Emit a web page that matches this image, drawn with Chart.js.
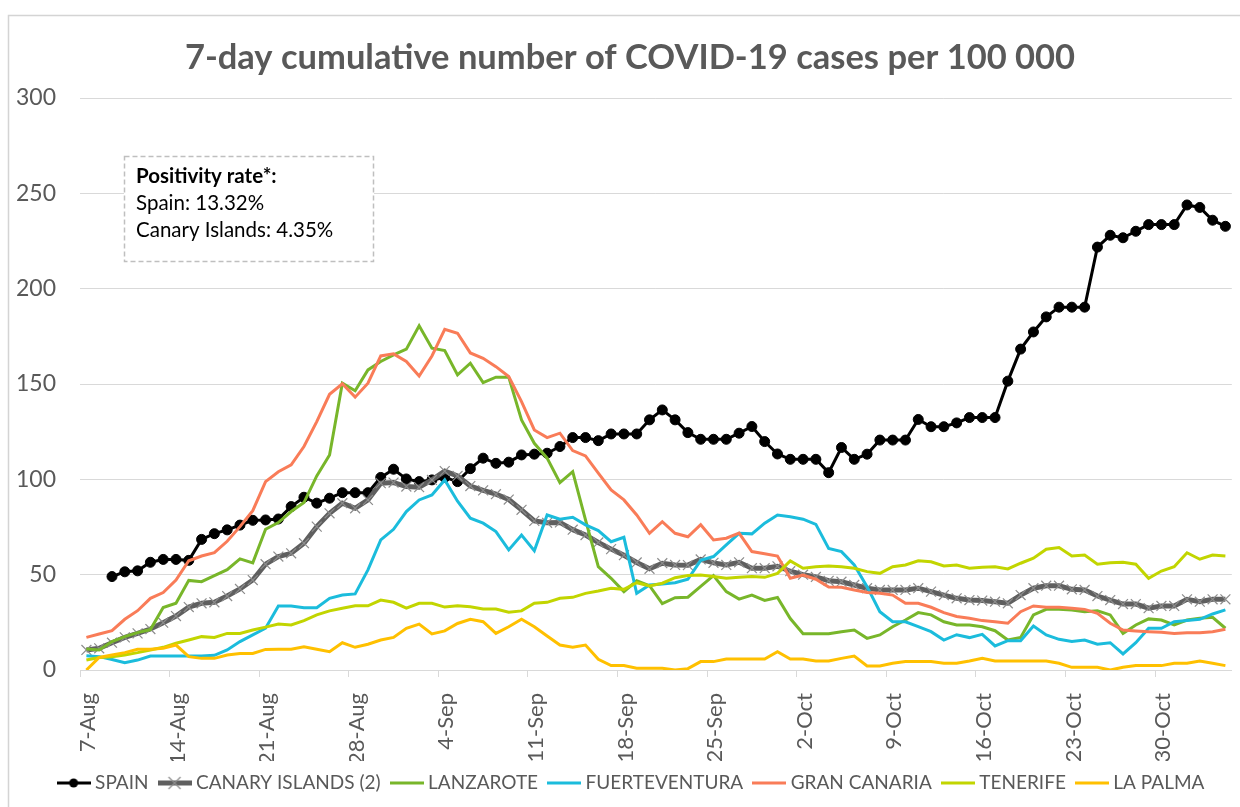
<!DOCTYPE html>
<html><head><meta charset="utf-8">
<script src="https://cdn.jsdelivr.net/npm/chart.js@4.4.0/dist/chart.umd.min.js"></script>
<style>html,body{margin:0;padding:0;background:#fff;overflow:hidden}</style>
</head><body>
<canvas id="c" width="1240" height="807"></canvas>
<script>
const FONT = "Lato, 'Liberation Sans', sans-serif";
const titleText = '7-day cumulative number of COVID-19 cases per 100 000';
const tickLabels = ['7-Aug','14-Aug','21-Aug','28-Aug','4-Sep','11-Sep','18-Sep','25-Sep','2-Oct','9-Oct','16-Oct','23-Oct','30-Oct'];
const seriesNames = ['SPAIN','CANARY ISLANDS (2)','LANZAROTE','FUERTEVENTURA','GRAN CANARIA','TENERIFE','LA PALMA'];

const spain = [null,null,49,51.5,52,56.5,58,58,57.5,68.5,71.5,73.5,76,78.5,78.7,79.2,85.7,90.6,87.5,90.1,93,93,93,101,105.3,100.2,98.8,99.7,101,98.8,105.6,111.1,108.4,109,112.8,113.2,113.7,117.2,121.9,121.9,120.3,123.8,123.8,123.8,131.2,136.4,131.2,124.5,121,121,121,124.2,127.7,119.8,113.3,110.5,110.5,110.5,103.5,116.7,110.5,113.2,120.6,120.6,120.6,131.4,127.6,127.6,129.6,132.4,132.4,132.4,151.5,168.3,177.3,185.2,190.3,190.3,190.3,221.8,228,226.7,230.1,233.6,233.6,233.6,243.9,242.6,235.9,232.7];
const canary = [10.5,11.4,14.3,17.1,19.2,21.5,24.8,28.3,33,35,35.5,38.8,42.5,47.2,55.5,59.5,61.2,66.5,75.2,82.2,87.5,84.8,89.2,98,98.3,96.2,95.9,99.7,104.3,101.8,96.5,94.2,92.2,89.4,84,78.2,77.2,77.4,73.6,70.8,66.9,63.4,60.2,56.4,53.1,56,55.1,55,58,56.2,55.1,56.5,53.4,53.4,54.4,51.8,50,48.8,46.8,46.3,44.6,42.9,42,42,42,42.9,41.1,39.3,37.6,36.7,36.4,35.8,35,39.3,42.9,44.2,44.2,42.3,42,38.8,36.7,34.6,34.6,32.4,33.6,33.6,37.1,35.8,37.1,37.1];
const lanzarote = [11,10.5,14.9,17.5,19.6,21.2,32.8,35,47,46.3,49.5,52.6,58.3,56.2,73.8,77.3,83.1,87.8,101.8,112.8,150.4,146.5,157.4,161.8,165.3,168.3,180.5,168.8,167.5,154.8,160.9,150.7,153.6,153.6,131.2,118.9,111.1,98.3,104,78.7,54.2,48.1,41.1,46.8,44.2,34.8,37.9,38.2,43.9,49.5,41.1,37.2,39.3,36.5,38,27,19,19,19,20.1,21,16.6,18.4,22.7,26.2,30.1,28.9,25.3,23.6,23.6,22.7,20.6,15.7,17.1,28.9,31.8,31.8,31.5,30.6,31.1,28.9,19.2,23.6,26.8,26.2,23.6,26.2,27.1,27.6,21.9];
const fuerteventura = [7.5,7,5.5,3.8,5.2,7.3,7.3,7.3,7.3,7.3,7.7,10.5,14.9,18.4,21.9,33.6,33.6,32.7,32.7,37.6,39.3,39.9,52.5,68.2,73.8,83.1,89.2,91.8,99.7,88.5,79.6,77,72.6,63,70.8,62.6,81.3,79.1,80.1,76.1,73.1,67.3,69.6,40.2,44.6,45.1,45.8,47.6,57.5,59.5,65.6,71.7,71.4,77,81.3,80.4,79.1,76.4,63.8,62.1,55.1,43.7,30.6,25.3,25.3,22.7,20.1,15.7,18.5,17,18.7,12.6,15.4,15.4,23.1,18.4,16.1,14.9,15.7,13.5,14.3,8.4,14.3,21.9,21.9,25.3,25.9,26.6,29.4,31.5];
const granCanaria = [17.1,18.9,20.6,26.6,31.1,37.6,40.6,47.2,57.3,59.8,61.5,67.5,75.2,83.6,98.8,104,107.6,117.2,130.3,144.6,150.1,143.1,150.4,164.7,165.8,161.8,154.2,164.7,178.7,176.6,166.3,163.5,159.1,153.9,140.8,125.9,121.9,124.2,115.1,112.3,103.2,94.4,89.2,81.3,71.7,77.8,71.7,69.9,76.2,68.2,69.1,71.8,62.1,61,59.8,48.1,49.8,47.6,43.5,43.4,42,40.6,40.2,39.3,35,35,32.9,30.1,28.1,27.1,25.9,25.3,24.5,30.6,33.6,32.9,32.9,32.4,31.8,29.7,24.5,21,20.5,20.1,19.8,19.2,19.6,19.6,20.1,21.4];
const tenerife = [5.2,6.6,7,7.9,9.1,10.5,11.9,14,15.7,17.5,17.1,19.2,19.2,21,22.5,24.1,23.6,25.9,28.9,31,32.4,33.7,33.7,36.7,35.5,32.4,35,35,33,33.7,33.2,32,32,30.3,31,35,35.5,37.6,38.1,40.2,41.4,42.9,42.3,45.8,44.1,45.5,48.4,49.6,49.8,49,48.1,48.6,49,48.6,50.7,57.2,53.4,54.2,54.6,54.2,53.4,51.6,50.7,54.2,55.1,57.3,56.8,54.6,55.1,53.4,53.9,54.2,53,56,58.6,63.3,64.2,59.8,60.3,55.5,56.3,56.5,55.5,48.1,51.9,54.2,61.5,58.1,60.3,59.8];
const laPalma = [0,6.6,7.9,9.1,10.9,10.9,11.4,13.1,7,6.1,6.1,7.9,8.7,8.7,10.8,10.9,10.9,12.2,10.9,9.6,14.3,11.9,13.5,15.7,17.1,21.9,24.1,18.9,20.5,24.4,26.6,25.3,19.2,22.7,26.6,22.7,17.8,13.1,11.9,13.1,5.6,2.3,2.3,0.9,0.9,0.9,0,0.7,4.4,4.4,5.8,5.8,5.8,5.8,9.6,5.8,5.8,4.7,4.7,6.1,7.3,2.1,2.1,3.5,4.4,4.4,4.4,3.5,3.5,4.7,6.1,4.7,4.7,4.7,4.7,4.7,3.5,1.4,1.4,1.4,0,1.4,2.3,2.3,2.3,3.5,3.5,4.7,3.5,2.3];

const seriesValues = [spain, canary, lanzarote, fuerteventura, granCanaria, tenerife, laPalma];
const colors = ['#000000','#5f5f5f','#78b62a','#1bbcdc','#f97c58','#c2d500','#ffc000'];

function legendIcon(i){
  const cv = document.createElement('canvas'); cv.width = 34; cv.height = 16;
  const g = cv.getContext('2d');
  g.strokeStyle = colors[i]; g.lineWidth = i===1 ? 5 : 3;
  g.beginPath(); g.moveTo(0,8); g.lineTo(34,8); g.stroke();
  if(i===0){ g.fillStyle='#000'; g.beginPath(); g.arc(17,8,4.5,0,Math.PI*2); g.fill(); }
  if(i===1){ g.strokeStyle='#8c8c8c'; g.lineWidth=1.2; g.beginPath(); g.moveTo(11,2); g.lineTo(23,14); g.moveTo(23,2); g.lineTo(11,14); g.stroke(); }
  return cv;
}

const datasets = seriesValues.map((vals, i) => ({
  label: seriesNames[i],
  data: vals.map((v, k) => ({x: k + 0.5, y: v})),
  borderColor: colors[i],
  backgroundColor: colors[i],
  borderWidth: i===1 ? 5 : 3,
  pointRadius: i===0 ? 5 : (i===1 ? 7 : 0),
  pointStyle: i===1 ? 'crossRot' : 'circle',
  pointBorderColor: i===1 ? '#8c8c8c' : colors[i],
  pointBackgroundColor: colors[i],
  pointBorderWidth: i===1 ? 1.2 : 1,
  tension: 0,
  spanGaps: false,
  order: 6 - i,
  legendIcon: legendIcon(i)
}));

const framePlugin = {
  id: 'frame',
  afterLayout(chart){
    const lg = chart.legend;
    if (lg) { lg.left += 32; lg.top -= 1.5; lg.bottom -= 1.5; }
  },
  beforeDraw(chart){
    const c = chart.ctx; c.save();
    c.fillStyle='#fff'; c.fillRect(0,0,chart.width,chart.height);
    c.strokeStyle='#d4d4d4'; c.lineWidth=1.5;
    c.beginPath(); c.moveTo(8.5,807); c.lineTo(8.5,15.5); c.lineTo(1240,15.5); c.stroke();
    c.fillStyle='#595959'; c.textAlign='center'; c.textBaseline='middle';
    c.font = "bold 34.5px " + FONT;
    c.fillText(titleText, 630, 58);
    c.restore();
  },
  afterDraw(chart){
    const c = chart.ctx; c.save();
    c.fillStyle='#fff'; c.fillRect(124,156,250,106);
    c.setLineDash([5,3]); c.strokeStyle='#bfbfbf'; c.lineWidth=1.5;
    c.strokeRect(124.5,156.5,249,105);
    c.setLineDash([]);
    c.fillStyle='#000'; c.textBaseline='alphabetic'; c.textAlign='left';
    c.font = "bold 20.5px " + FONT; c.fillText('Positivity rate*:', 136, 183);
    c.font = "20.5px " + FONT;
    c.fillText('Spain: 13.32%', 136, 210);
    c.fillText('Canary Islands: 4.35%', 136, 237);
    c.restore();
  }
};

new Chart(document.getElementById('c'), {
  type: 'line',
  data: { datasets },
  plugins: [framePlugin],
  options: {
    responsive: false, animation: false, devicePixelRatio: 1,
    layout: { padding: { left: 0, right: 6, top: 98, bottom: 3 } },
    plugins: {
      tooltip: { enabled: false },
      title: { display: false },
      legend: { position: 'bottom',
        labels: { usePointStyle: true, pointStyleWidth: 24, padding: 14, color: '#595959',
          font: { family: FONT, size: 19 },
          sort: (a, b) => a.datasetIndex - b.datasetIndex,
          generateLabels: (chart) => chart.data.datasets.map((d, i) => ({
            text: d.label, datasetIndex: i, pointStyle: d.legendIcon, fillStyle: d.borderColor,
            strokeStyle: d.borderColor, lineWidth: 0, hidden: false, fontColor: '#595959' })) } }
    },
    scales: {
      x: { type: 'linear', min: 0, max: 90,
        ticks: { stepSize: 7, includeBounds: false, autoSkip: false, maxRotation: 90, minRotation: 90,
          labelOffset: 8, padding: 16, color: '#595959', font: { family: FONT, size: 22 },
          callback: (v) => (v % 7 === 0 && tickLabels[v / 7]) ? tickLabels[v / 7] : '' },
        grid: { drawOnChartArea: false, drawTicks: true, tickLength: 7, color: '#d9d9d9' },
        border: { color: '#d9d9d9', width: 1 },
        afterFit(s) { s.height = 91; } },
      y: { min: 0, max: 300,
        ticks: { stepSize: 50, padding: 24, color: '#595959', font: { family: FONT, size: 23 } },
        grid: { color: '#d9d9d9', drawTicks: false },
        border: { display: false },
        afterFit(s) { s.width = 80; } }
    }
  }
});
</script>
</body></html>
